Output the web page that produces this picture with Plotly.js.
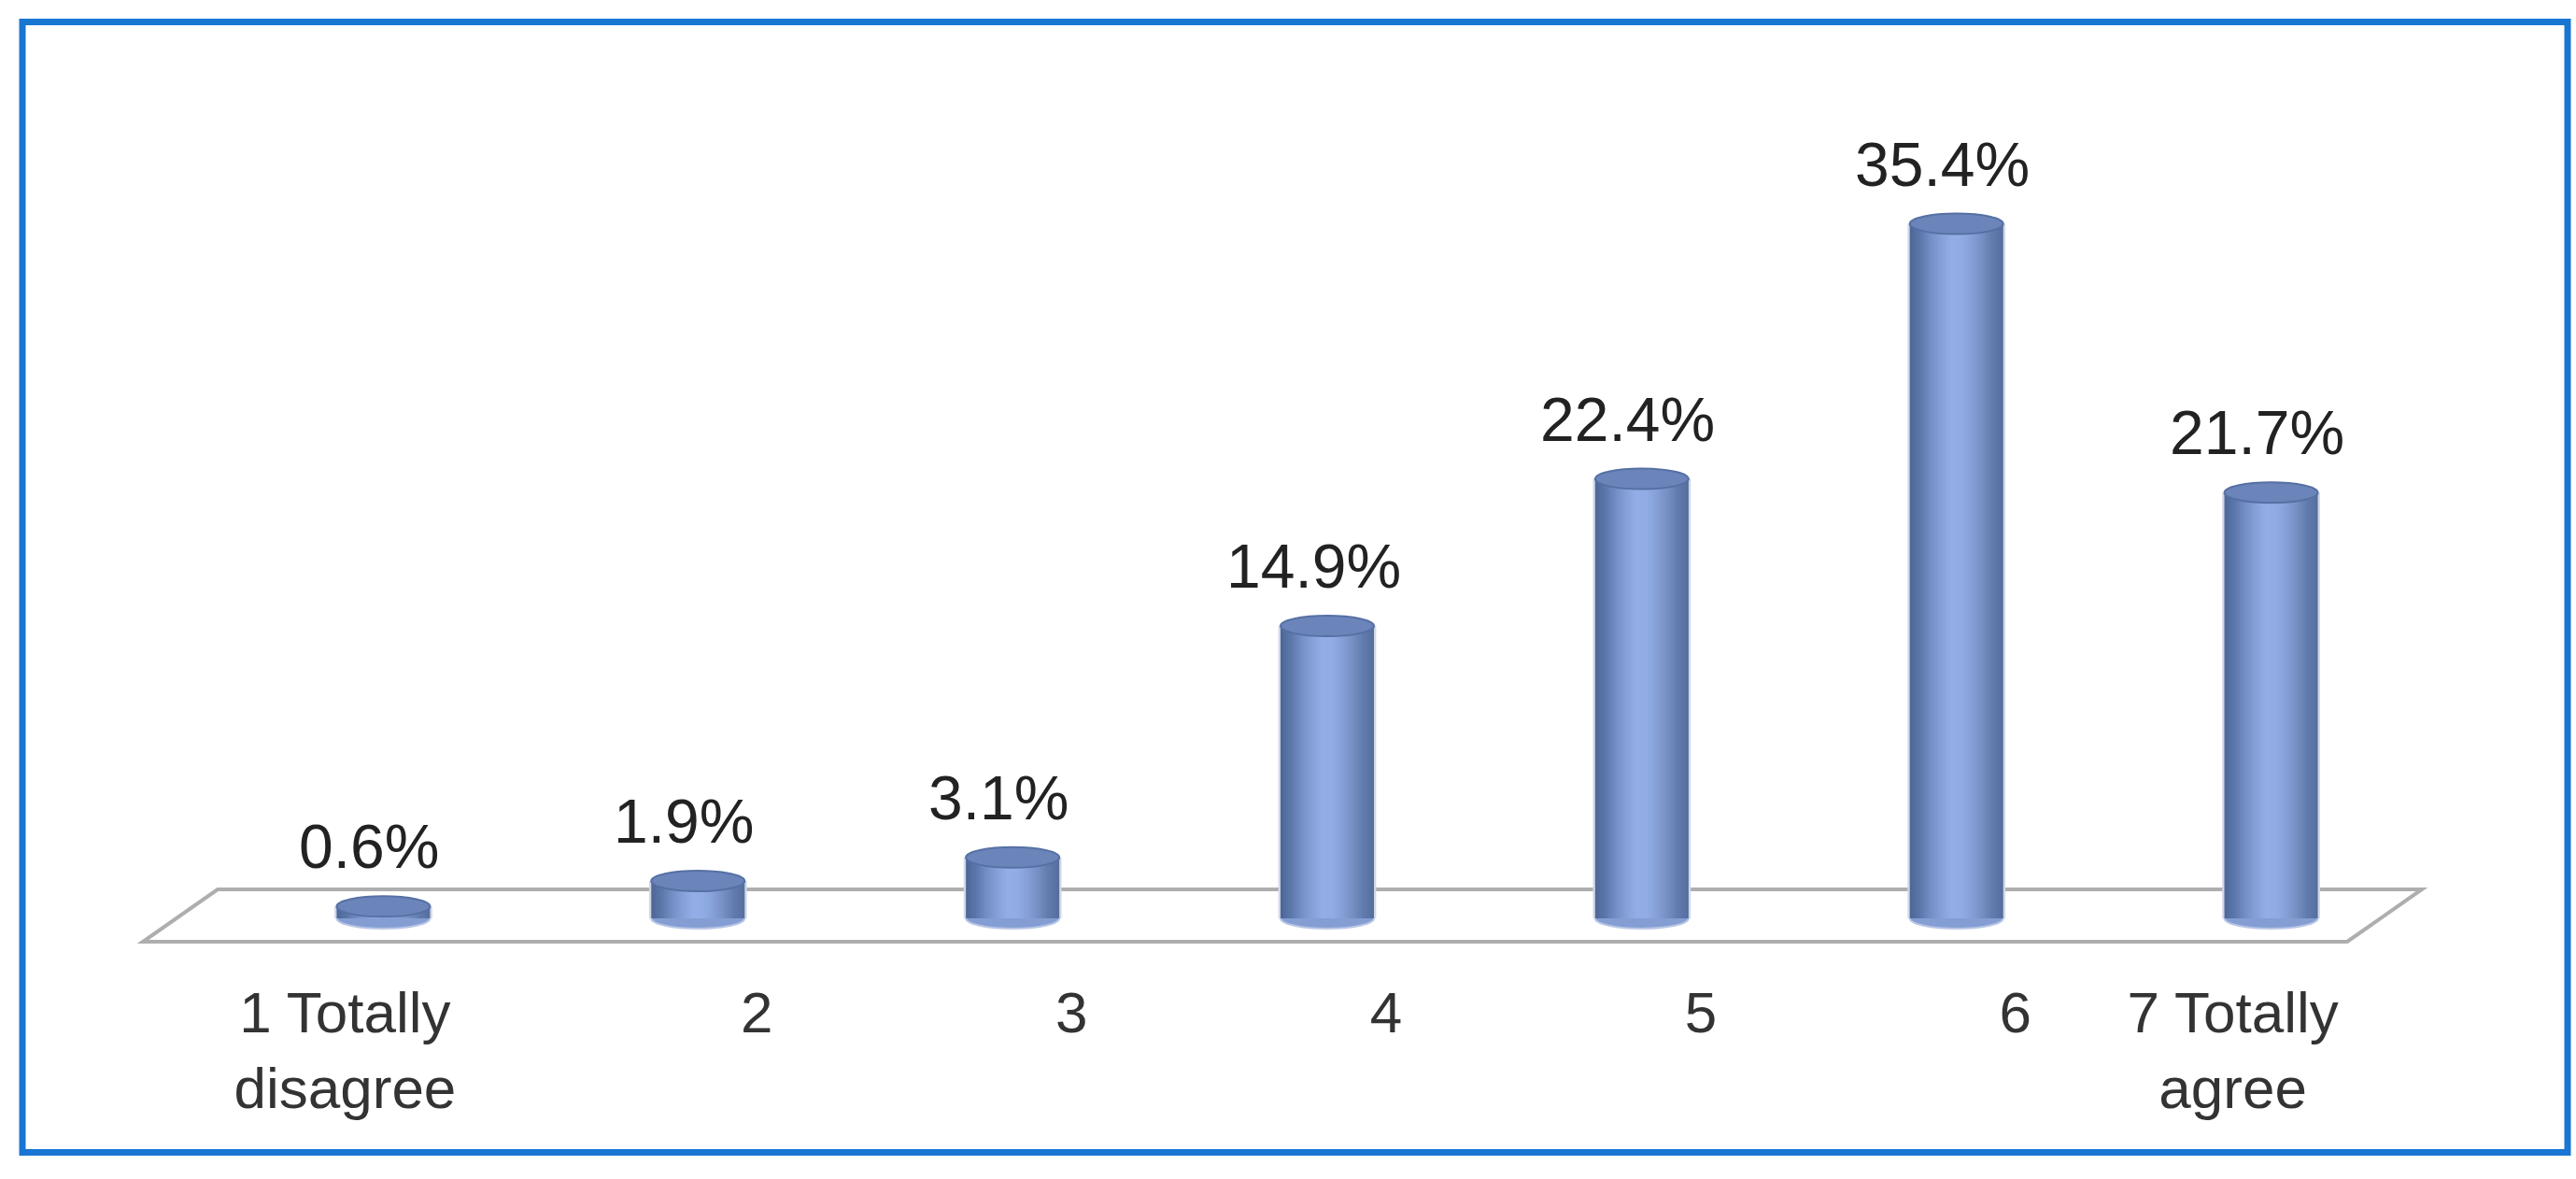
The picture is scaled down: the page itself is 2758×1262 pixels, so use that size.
<!DOCTYPE html>
<html>
<head>
<meta charset="utf-8">
<script src="https://cdn.plot.ly/plotly-3.0.1.min.js"></script>
<style>
  html, body { margin: 0; padding: 0; background: #ffffff; }
  #chart { width: 2758px; height: 1262px; }
</style>
</head>
<body>
<div id="chart"></div>
<script>
// ---- data ----
const categories = ['1 Totally<br>disagree', '2', '3', '4', '5', '6', '7 Totally<br>agree'];
const percentages = [0.6, 1.9, 3.1, 14.9, 22.4, 35.4, 21.7];
const valueLabels = ['0.6%', '1.9%', '3.1%', '14.9%', '22.4%', '35.4%', '21.7%'];

// ---- style constants ----
const FONT = 'Liberation Sans, Arial, sans-serif';
const W = 2758, H = 1262;
const M = { l: 242, r: 158, t: 143, b: 228 };
const PW = W - M.l - M.r, PH = H - M.t - M.b;
const Y_RANGE = [-2.43, 40];
const PX_PER_UNIT = PH / (Y_RANGE[1] - Y_RANGE[0]);
const BAR_W = 0.297;               // in category units
const CAP_DY = 11 / PX_PER_UNIT;   // ellipse half-height in data units
// key colours of the cylinder shading, left edge to right edge
const keyShades = ['#4e6899', '#5d79ad', '#7590c6', '#86a0d8', '#93aee6',
                   '#91ace4', '#86a0d7', '#7690c4', '#637cae', '#55709f'];
function hexToRgb(h) { return [1, 3, 5].map(k => parseInt(h.substr(k, 2), 16)); }
function mix(a, b, t) {
  const A = hexToRgb(a), B = hexToRgb(b);
  return 'rgb(' + A.map((v, k) => Math.round(v + (B[k] - v) * t)).join(',') + ')';
}
const shades = [];
const SUB = 4;
for (let k = 0; k < keyShades.length - 1; k++) {
  for (let s = 0; s < SUB; s++) shades.push(mix(keyShades[k], keyShades[k + 1], s / SUB));
}
shades.push(keyShades[keyShades.length - 1]);

const xs = categories.map((_, i) => i);

function px2paperX(px) { return (px - M.l) / PW; }
function px2paperY(py) { return (M.t + PH - py) / PH; }

// ---- traces ----
const traces = [];
// faint halo behind each cylinder
traces.push({
  type: 'bar', x: xs, y: percentages,
  width: BAR_W + 0.014, offset: -(BAR_W + 0.014) / 2,
  marker: { color: '#d2d8e6', line: { width: 0 } },
  hoverinfo: 'skip', showlegend: false
});
const N = shades.length;
const step = BAR_W / N;
shades.forEach((c, k) => {
  traces.push({
    type: 'bar', x: xs, y: percentages,
    width: k < N - 1 ? step * 1.6 : step,
    offset: -BAR_W / 2 + k * step,
    marker: { color: c, line: { width: 0 } },
    hoverinfo: k === Math.floor(N / 2) ? 'x+y' : 'skip',
    showlegend: false
  });
});
// invisible trace so the second x axis (end labels) is drawn
traces.push({
  type: 'scatter', mode: 'markers', x: [0, 6], y: [0, 0], xaxis: 'x2',
  marker: { opacity: 0, size: 1 }, hoverinfo: 'skip', showlegend: false
});

// ---- shapes ----
const shapes = [];
// 3D floor
const floorPts = [[233, 952], [2593, 952], [2513, 1008], [153, 1008]];
shapes.push({
  type: 'path', xref: 'paper', yref: 'paper', layer: 'below',
  path: 'M ' + floorPts.map(p => px2paperX(p[0]) + ',' + px2paperY(p[1])).join(' L ') + ' Z',
  line: { color: '#aeaeae', width: 4 }, fillcolor: 'rgba(255,255,255,0)'
});
// bottom ellipses
xs.forEach(i => {
  shapes.push({
    type: 'circle', xref: 'x', yref: 'y', layer: 'below',
    x0: i - BAR_W / 2, x1: i + BAR_W / 2, y0: -CAP_DY, y1: CAP_DY,
    fillcolor: '#849ed4', line: { color: '#b9c6e4', width: 2 }
  });
});
// top ellipses
xs.forEach(i => {
  const v = percentages[i];
  shapes.push({
    type: 'circle', xref: 'x', yref: 'y', layer: 'above',
    x0: i - BAR_W / 2, x1: i + BAR_W / 2, y0: v - CAP_DY, y1: v + CAP_DY,
    fillcolor: '#6b85ba', line: { color: '#5670a4', width: 2 }
  });
});
// blue frame
shapes.push({
  type: 'rect', xref: 'paper', yref: 'paper', layer: 'above',
  x0: px2paperX(24), x1: px2paperX(2749), y0: px2paperY(1233.5), y1: px2paperY(23.5),
  line: { color: '#1976d2', width: 7 }, fillcolor: 'rgba(0,0,0,0)'
});

// ---- value labels ----
const annotations = xs.map(i => ({
  x: i, y: percentages[i], xref: 'x', yref: 'y',
  text: valueLabels[i], showarrow: false,
  xanchor: 'center', yanchor: 'bottom', xshift: -15, yshift: 25,
  font: { family: FONT, size: 66, color: '#222222' }
}));

const tickFont = { family: FONT, size: 62, color: '#333333' };

const layout = {
  width: W, height: H,
  margin: M,
  paper_bgcolor: '#ffffff', plot_bgcolor: '#ffffff',
  barmode: 'overlay',
  showlegend: false,
  xaxis: {
    range: [-0.5, 6.5], tickmode: 'array',
    tickvals: xs.slice(1, 6), ticktext: categories.slice(1, 6),
    ticks: '', showgrid: false, zeroline: false, showline: false,
    tickfont: tickFont, ticklabelshift: 63, ticklabelstandoff: 8, fixedrange: true
  },
  xaxis2: {
    overlaying: 'x', anchor: 'y', side: 'bottom',
    range: [-0.5, 6.5], tickmode: 'array',
    tickvals: [xs[0], xs[6]], ticktext: [categories[0], categories[6]],
    ticks: '', showgrid: false, zeroline: false, showline: false,
    tickfont: tickFont, ticklabelshift: -41, ticklabelstandoff: 8, fixedrange: true
  },
  yaxis: { range: Y_RANGE, visible: false, fixedrange: true },
  shapes: shapes,
  annotations: annotations
};

Plotly.newPlot('chart', traces, layout, { displayModeBar: false, staticPlot: true });
</script>
</body>
</html>
